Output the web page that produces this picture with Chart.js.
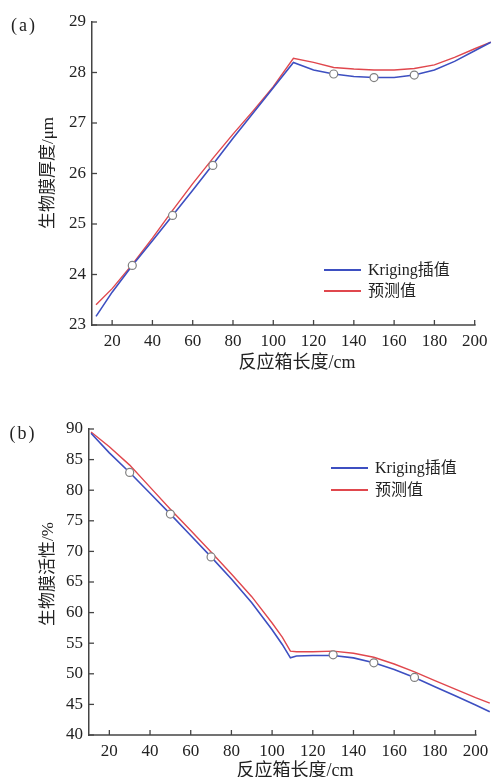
<!DOCTYPE html>
<html>
<head>
<meta charset="utf-8">
<script src="https://cdn.jsdelivr.net/npm/chart.js@4"></script>
<style>
  body { margin: 0; background: #fff; }
  #wrap { position: relative; width: 496px; height: 777px; overflow: hidden; }
  canvas { position: absolute; left: 0; }
  .lbl { position: absolute; font-family: 'Liberation Serif', 'Noto Sans CJK SC', serif; color: #222; white-space: nowrap; transform: translate(-50%, -50%); }
  .rot { transform: translate(-50%, -50%) rotate(-90deg); }
</style>
</head>
<body>
<div id="wrap">
  <canvas id="chartA" width="496" height="380" style="top:0"></canvas>
  <canvas id="chartB" width="496" height="387" style="top:390px"></canvas>
  <div class="lbl" style="left:24px;top:25px;font-size:18px;letter-spacing:2px">(a)</div>
  <div class="lbl" style="left:23px;top:433px;font-size:18px;letter-spacing:2px">(b)</div>
  <div class="lbl rot" style="left:45px;top:173px;font-size:17px">生物膜厚度/μm</div>
  <div class="lbl rot" style="left:45px;top:574px;font-size:17px">生物膜活性/%</div>
  <div class="lbl" style="left:297px;top:360px;font-size:18px">反应箱长度/cm</div>
  <div class="lbl" style="left:295px;top:768px;font-size:18px">反应箱长度/cm</div>
</div>
<script>
// x ticks shared by both panels
const xTicks = [20, 40, 60, 80, 100, 120, 140, 160, 180, 200]

// (a) biofilm thickness
const lenA = [12, 20, 30, 40, 50, 60, 70, 80, 90, 100, 110, 120, 130, 140, 150, 160, 170, 180, 190, 200, 208]
const krigingA = [23.17, 23.65, 24.18, 24.67, 25.17, 25.67, 26.18, 26.7, 27.2, 27.7, 28.2, 28.05, 27.97, 27.92, 27.9, 27.9, 27.95, 28.05, 28.22, 28.43, 28.6]
const predA = [23.4, 23.72, 24.2, 24.72, 25.27, 25.8, 26.3, 26.78, 27.24, 27.72, 28.28, 28.2, 28.1, 28.07, 28.05, 28.05, 28.08, 28.15, 28.3, 28.47, 28.6]
const sampleLenA = [30, 50, 70, 130, 150, 170]
const sampleA = [24.18, 25.17, 26.16, 27.97, 27.9, 27.95]
const yTicksA = [23, 24, 25, 26, 27, 28, 29]

// (b) biofilm activity
const lenB = [11, 20, 30, 40, 50, 60, 70, 80, 90, 100, 105, 109, 112, 120, 130, 140, 150, 160, 170, 180, 190, 200, 207]
const krigingB = [89.3, 86.1, 82.9, 79.5, 76.1, 72.6, 69.1, 65.5, 61.6, 57.2, 54.8, 52.6, 52.9, 53.0, 53.0, 52.6, 51.8, 50.7, 49.4, 47.9, 46.4, 44.9, 43.8]
const predB = [89.5, 87.1, 84.1, 80.5, 76.9, 73.4, 69.9, 66.3, 62.6, 58.3, 56.0, 53.7, 53.6, 53.6, 53.7, 53.35, 52.7, 51.6, 50.3, 48.9, 47.5, 46.1, 45.2]
const sampleLenB = [30, 50, 70, 130, 150, 170]
const sampleB = [82.9, 76.1, 69.1, 53.1, 51.8, 49.4]
const yTicksB = [40, 45, 50, 55, 60, 65, 70, 75, 80, 85, 90]

const seriesNames = ['Kriging插值', '预测值']
const blue = '#3d4fc1'
const red = '#e0474d'
const axisColor = '#444'
const serif = "'Liberation Serif', 'Noto Sans CJK SC', serif"

const pts = (xs, ys) => xs.map((x, i) => ({ x, y: ys[i] }))

// x axis line (stops at the last tick) and inward tick marks
const innerTicks = {
  id: 'innerTicks',
  afterDraw(chart) {
    const { ctx, chartArea } = chart
    const xs = chart.scales.x, ys = chart.scales.y
    const len = 5
    ctx.save()
    ctx.strokeStyle = axisColor
    ctx.lineWidth = 1.5
    ctx.beginPath()
    ctx.moveTo(chartArea.left, chartArea.bottom)
    ctx.lineTo(xs.getPixelForValue(xTicks[xTicks.length - 1]) + 1, chartArea.bottom)
    ctx.stroke()
    ctx.lineWidth = 1.3
    xs.ticks.forEach(t => {
      const px = xs.getPixelForValue(t.value)
      ctx.beginPath()
      ctx.moveTo(px, chartArea.bottom)
      ctx.lineTo(px, chartArea.bottom - len)
      ctx.stroke()
    })
    ys.ticks.forEach(t => {
      const py = ys.getPixelForValue(t.value)
      ctx.beginPath()
      ctx.moveTo(chartArea.left, py)
      ctx.lineTo(chartArea.left + len, py)
      ctx.stroke()
    })
    ctx.restore()
  }
}

// small legend inside the plot
const boxLegend = {
  id: 'boxLegend',
  afterDraw(chart, args, opts) {
    const { ctx, chartArea } = chart
    const x0 = chartArea.left + opts.dx
    let y = chartArea.top + opts.dy
    ctx.save()
    ctx.font = '16px ' + serif
    ctx.textBaseline = 'middle'
    chart.data.datasets.filter(d => d.inLegend).forEach(d => {
      ctx.strokeStyle = d.borderColor
      ctx.lineWidth = 2
      ctx.beginPath()
      ctx.moveTo(x0, y)
      ctx.lineTo(x0 + 37, y)
      ctx.stroke()
      ctx.fillStyle = '#222'
      ctx.fillText(d.label, x0 + 44, y + 1)
      y += opts.gap
    })
    ctx.restore()
  }
}

function makeChart(id, xs, kriging, pred, sx, sy, yTicks, cfg) {
  new Chart(document.getElementById(id), {
    type: 'line',
    data: {
      datasets: [
        { label: '实测值', data: pts(sx, sy), showLine: false, pointRadius: 4, pointBorderColor: '#808080', pointBackgroundColor: '#fff', pointBorderWidth: 1.2, order: 0 },
        { label: seriesNames[0], data: pts(xs, kriging), borderColor: blue, borderWidth: 1.6, pointRadius: 0, clip: false, inLegend: true, order: 1 },
        { label: seriesNames[1], data: pts(xs, pred), borderColor: red, borderWidth: 1.4, pointRadius: 0, clip: false, inLegend: true, order: 2 }
      ]
    },
    options: {
      responsive: false,
      animation: false,
      layout: { padding: { top: cfg.top, right: 0, left: 0, bottom: 0 } },
      plugins: {
        legend: { display: false },
        tooltip: { enabled: false },
        boxLegend: cfg.legend
      },
      scales: {
        x: {
          type: 'linear', min: 10, max: cfg.xmax,
          afterBuildTicks: s => { s.ticks = xTicks.map(v => ({ value: v })) },
          afterFit: s => { s.height = cfg.xh },
          grid: { display: false, drawTicks: false },
          border: { display: false },
          ticks: { padding: 6, color: '#222', font: { family: serif, size: 17 } }
        },
        y: {
          type: 'linear', min: yTicks[0], max: yTicks[yTicks.length - 1],
          afterBuildTicks: s => { s.ticks = yTicks.map(v => ({ value: v })) },
          afterFit: s => { s.width = cfg.yw },
          grid: { display: false, drawTicks: false },
          border: { color: axisColor, width: 1.5 },
          ticks: { padding: 6, color: '#222', font: { family: serif, size: 17 } }
        }
      }
    },
    plugins: [innerTicks, boxLegend]
  })
}

makeChart('chartA', lenA, krigingA, predA, sampleLenA, sampleA, yTicksA,
  { top: 22, xmax: 208, xh: 55, yw: 92, legend: { dx: 232, dy: 248, gap: 21 } })
makeChart('chartB', lenB, krigingB, predB, sampleLenB, sampleB, yTicksB,
  { top: 39, xmax: 207.5, xh: 42, yw: 89, legend: { dx: 242, dy: 39, gap: 22 } })
</script>
</body>
</html>
